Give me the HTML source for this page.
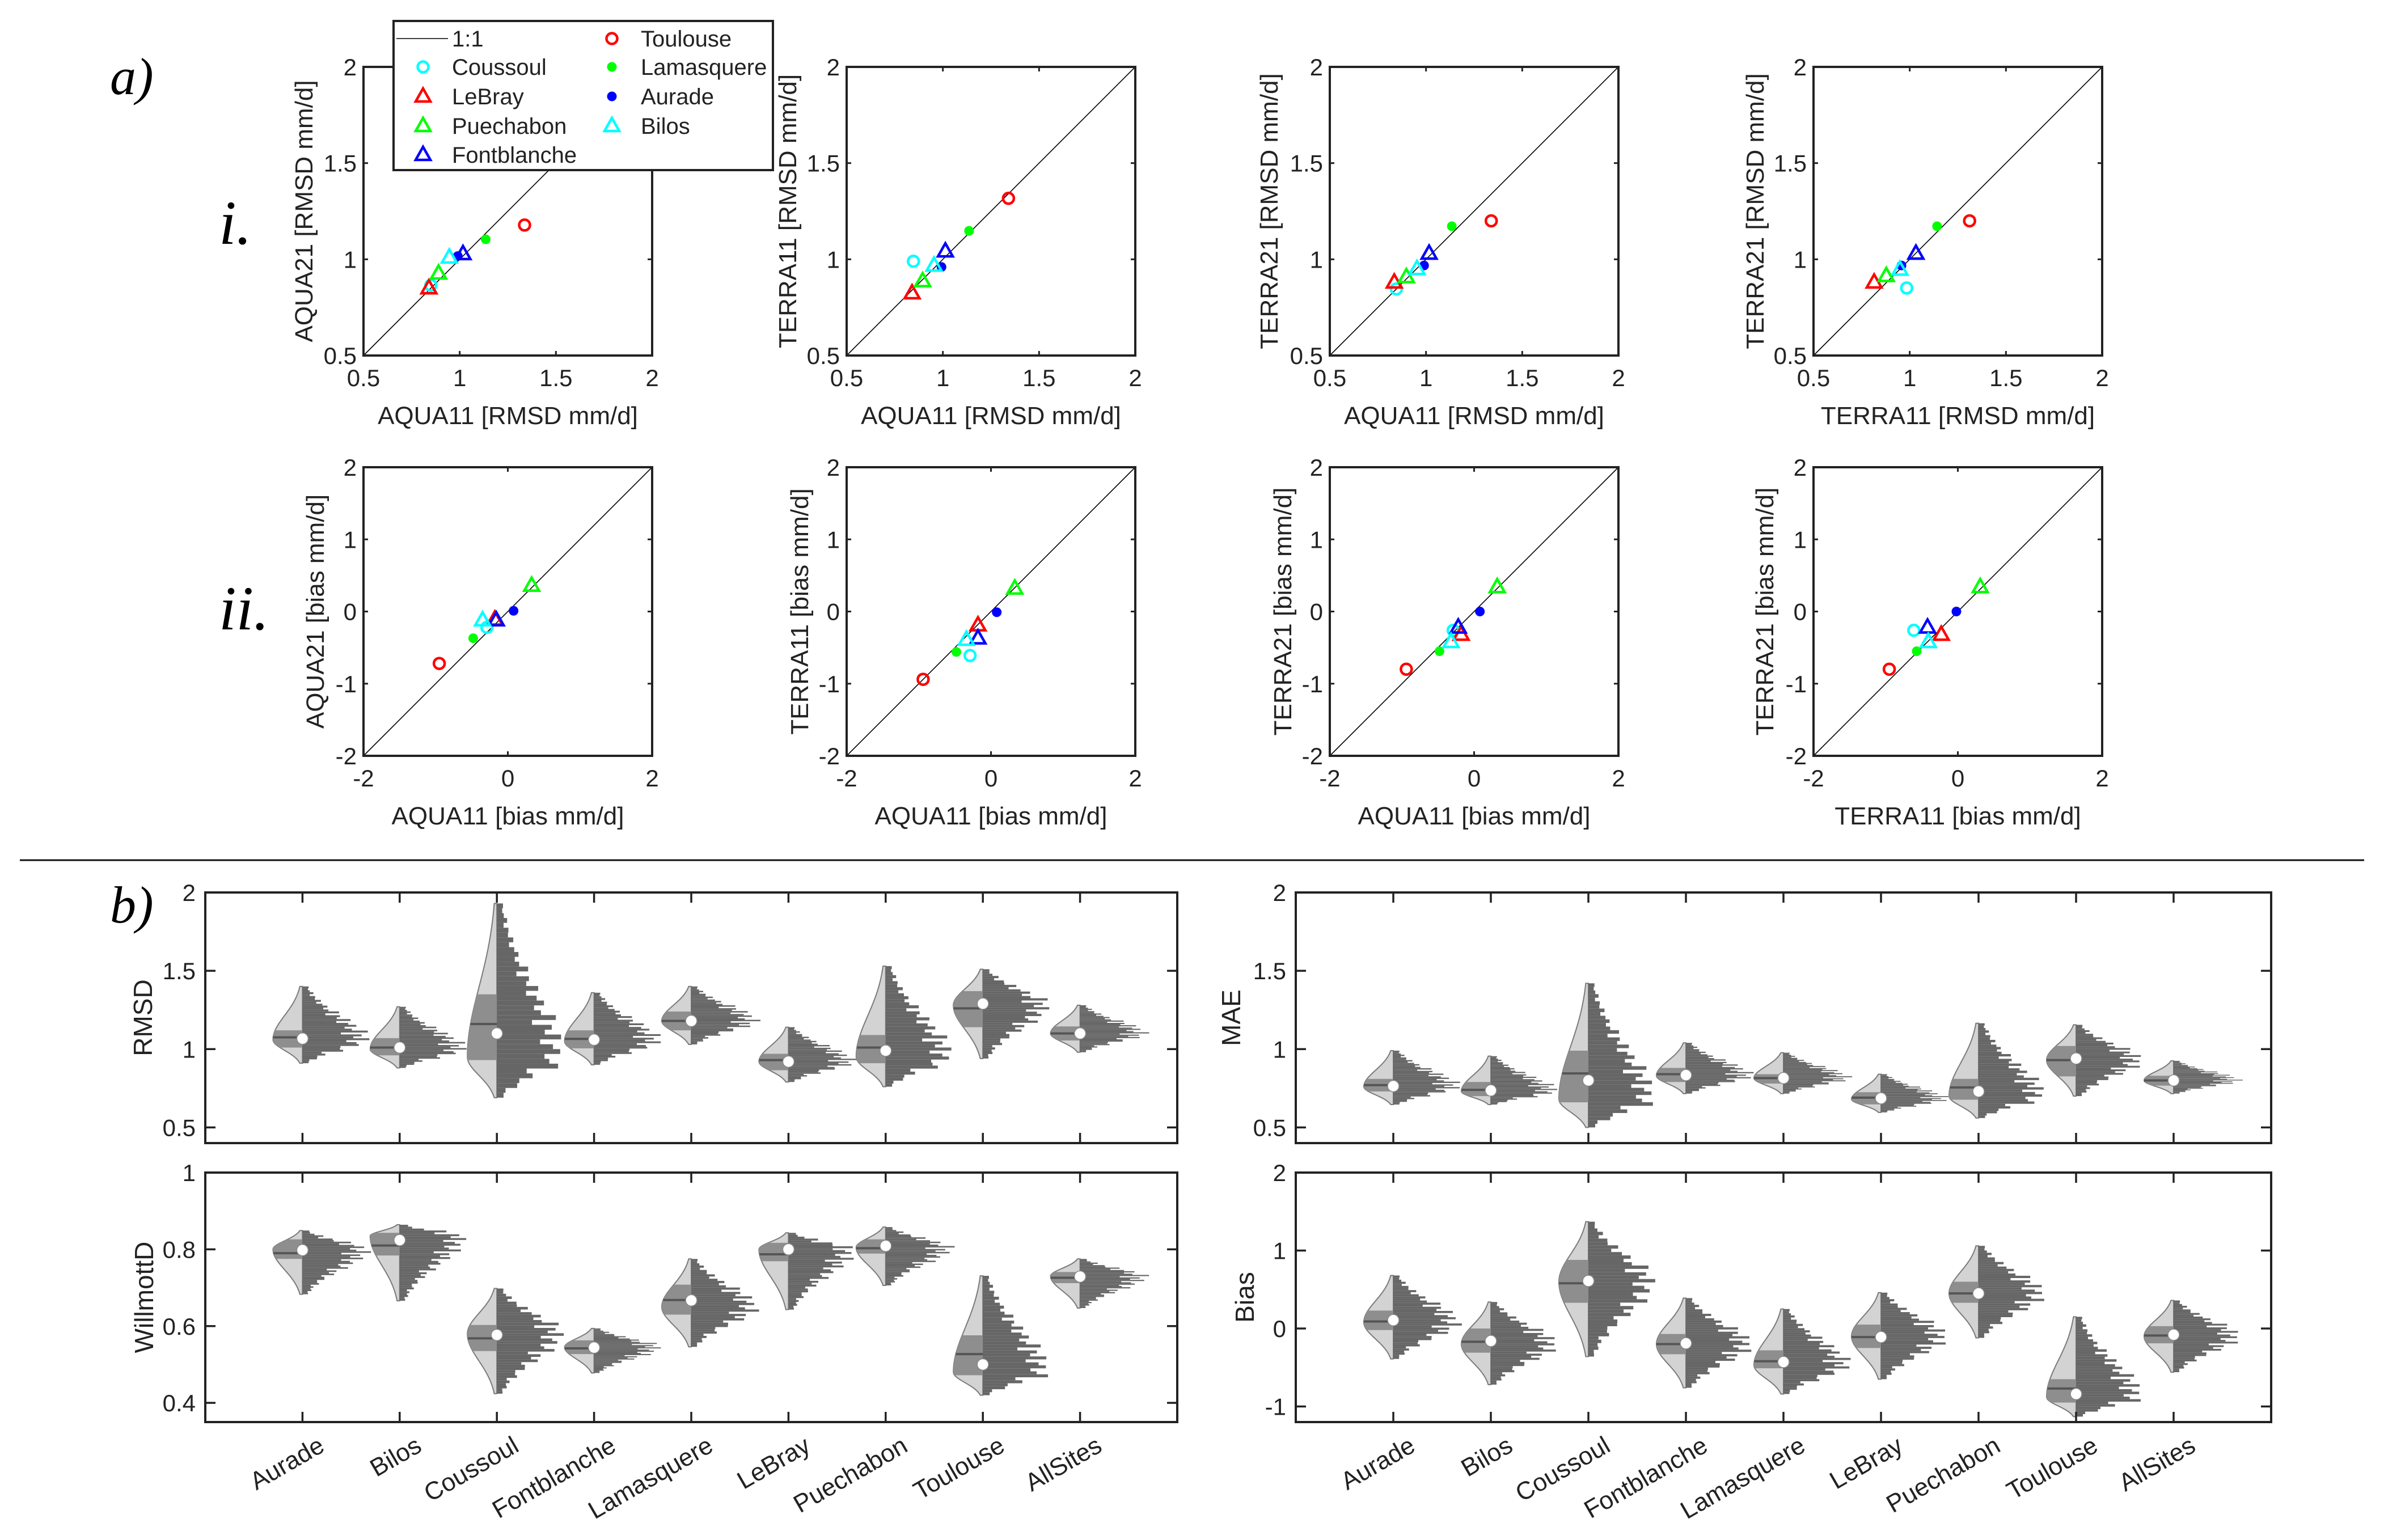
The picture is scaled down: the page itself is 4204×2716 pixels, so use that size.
<!DOCTYPE html>
<html><head><meta charset="utf-8"><style>
html,body{margin:0;padding:0;background:#fff;}
svg{display:block;font-family:"Liberation Sans",Arial,sans-serif;}
</style></head><body>
<svg id="fig" xmlns="http://www.w3.org/2000/svg" width="4204" height="2716" viewBox="0 0 4204 2716">
<rect x="0" y="0" width="4204" height="2716" fill="#fff"/>
<text x="194" y="166" font-family="Liberation Serif,serif" font-style="italic" font-size="92">a)</text>
<text x="386" y="430" font-family="Liberation Serif,serif" font-style="italic" font-size="110">i.</text>
<text x="386" y="1110" font-family="Liberation Serif,serif" font-style="italic" font-size="110">ii.</text>
<line x1="35" y1="1517" x2="4169" y2="1517" stroke="#111" stroke-width="3"/>
<text x="194" y="1627" font-family="Liberation Serif,serif" font-style="italic" font-size="92">b)</text>
<g id="g"></g>
</svg>
<script>
// ---------- scatter data ----------
const sites = ['Coussoul','LeBray','Puechabon','Fontblanche','Toulouse','Lamasquere','Aurade','Bilos'];
const siteColors = ['#00ffff','#ff0000','#00ff00','#0000ff','#ff0000','#00ff00','#0000ff','#00ffff'];
const siteMarkers = ['o','^','^','^','o','.','.','^'];
const p1x = [0.85,0.84,0.89,1.017,1.337,1.135,0.99,0.946];
const p1y = [0.865,0.85,0.927,1.028,1.178,1.104,1.017,1.01];
const p2x = [0.847,0.84,0.895,1.013,1.341,1.136,0.993,0.954];
const p2y = [0.99,0.824,0.887,1.042,1.317,1.148,0.96,0.968];
const p3x = [0.846,0.835,0.898,1.016,1.339,1.134,0.99,0.953];
const p3y = [0.846,0.88,0.908,1.03,1.2,1.172,0.968,0.95];
const p4x = [0.984,0.815,0.878,1.032,1.311,1.142,0.957,0.949];
const p4y = [0.851,0.88,0.914,1.03,1.2,1.172,0.968,0.947];
const p5x = [-0.29,-0.18,0.33,-0.16,-0.95,-0.48,0.08,-0.35];
const p5y = [-0.22,-0.11,0.36,-0.12,-0.72,-0.37,0.01,-0.12];
const p6x = [-0.29,-0.18,0.33,-0.18,-0.94,-0.48,0.08,-0.34];
const p6y = [-0.61,-0.19,0.32,-0.37,-0.94,-0.56,-0.01,-0.39];
const p7x = [-0.29,-0.18,0.32,-0.22,-0.94,-0.48,0.08,-0.32];
const p7y = [-0.26,-0.32,0.34,-0.22,-0.8,-0.55,0.0,-0.42];
const p8x = [-0.61,-0.23,0.31,-0.42,-0.95,-0.57,-0.02,-0.41];
const p8y = [-0.26,-0.32,0.34,-0.22,-0.8,-0.55,0.0,-0.42];
const rmsdTicks = [0.5,1,1.5,2];
const rmsdTickLabels = ['0.5','1','1.5','2'];
const biasTicks = [-2,0,2];
const biasTickLabels = ['-2','0','2'];
const biasYTicks = [-2,-1,0,1,2];
const biasYTickLabels = ['-2','-1','0','1','2'];

// ---------- violin data ----------
const categories = ['Aurade','Bilos','Coussoul','Fontblanche','Lamasquere','LeBray','Puechabon','Toulouse','AllSites'];
const rmsdMin = [0.91,0.88,0.69,0.90,1.03,0.79,0.76,0.94,0.98];
const rmsdQ1 = [1.01,0.96,0.93,1.005,1.12,0.865,0.91,1.14,1.055];
const rmsdMed = [1.075,1.01,1.16,1.065,1.18,0.93,1.01,1.26,1.10];
const rmsdQ3 = [1.12,1.07,1.35,1.12,1.24,0.97,1.09,1.37,1.145];
const rmsdMax = [1.40,1.27,1.93,1.36,1.40,1.14,1.53,1.51,1.28];
const rmsdMean = [1.067,1.01,1.10,1.06,1.18,0.92,0.99,1.29,1.10];
const rmsdMode = [1.06,1.0,0.95,1.05,1.18,0.92,0.95,1.28,1.10];
const willMin = [0.683,0.666,0.424,0.478,0.546,0.643,0.706,0.42,0.647];
const willQ1 = [0.775,0.784,0.535,0.527,0.63,0.769,0.789,0.472,0.712];
const willMed = [0.79,0.81,0.568,0.542,0.668,0.787,0.803,0.527,0.726];
const willQ3 = [0.826,0.843,0.603,0.563,0.708,0.817,0.826,0.576,0.741];
const willMax = [0.849,0.864,0.698,0.594,0.775,0.843,0.858,0.731,0.775];
const willMean = [0.798,0.824,0.577,0.544,0.667,0.80,0.809,0.50,0.729];
const willMode = [0.80,0.835,0.58,0.545,0.65,0.80,0.805,0.48,0.73];
const maeMin = [0.646,0.646,0.50,0.716,0.716,0.596,0.56,0.70,0.716];
const maeQ1 = [0.73,0.70,0.66,0.79,0.78,0.647,0.677,0.826,0.767];
const maeMed = [0.77,0.74,0.845,0.84,0.815,0.69,0.755,0.93,0.80];
const maeQ3 = [0.81,0.79,0.99,0.88,0.84,0.725,0.81,1.02,0.83];
const maeMax = [0.99,0.955,1.42,1.04,0.977,0.84,1.165,1.155,0.925];
const maeMean = [0.764,0.736,0.80,0.834,0.815,0.686,0.73,0.94,0.80];
const maeMode = [0.76,0.73,0.68,0.83,0.815,0.68,0.70,0.93,0.80];
const biasMin = [-0.39,-0.72,-0.36,-0.76,-0.84,-0.65,-0.12,-1.13,-0.56];
const biasQ1 = [-0.02,-0.31,0.33,-0.33,-0.51,-0.25,0.33,-0.95,-0.19];
const biasMed = [0.09,-0.17,0.58,-0.2,-0.42,-0.11,0.45,-0.77,-0.09];
const biasQ3 = [0.23,0.0,0.88,-0.07,-0.28,0.05,0.60,-0.65,0.03];
const biasMax = [0.68,0.34,1.37,0.39,0.25,0.46,1.06,0.15,0.36];
const biasMean = [0.107,-0.16,0.61,-0.19,-0.43,-0.11,0.45,-0.84,-0.08];
const biasMode = [0.08,-0.2,0.6,-0.2,-0.47,-0.1,0.45,-0.88,-0.1];

const NS = 'http://www.w3.org/2000/svg';
const root = document.getElementById('g');
function mk(tag, attrs, parent, name, inter) {
  const el = document.createElementNS(NS, tag);
  for (const k in attrs) el.setAttribute(k, attrs[k]);
  
  
  (parent || root).appendChild(el);
  return el;
}
function txt(s, attrs, parent, name) {
  const el = mk('text', attrs, parent, name, false);
  el.textContent = s;
  return el;
}

// ---------- scatter plots ----------
function marker(g, kind, color, px, py, name) {
  if (kind === 'o') {
    mk('circle', {cx:px, cy:py, r:9.5, fill:'none', stroke:color, 'stroke-width':4.5}, g, name, false);
  } else if (kind === '^') {
    mk('path', {d:`M${px},${py-14} L${px+13},${py+9} L${px-13},${py+9} Z`, fill:'none', stroke:color, 'stroke-width':4.5, 'stroke-linejoin':'miter'}, g, name, false);
  } else {
    mk('circle', {cx:px, cy:py, r:8.5, fill:color}, g, name, false);
  }
}
function scatter(id, x0, y0, size, lo, hi, xt, xtl, yt, ytl, xs, ys, xlab, ylab, ylabOff) {
  const g = mk('g', {}, root, 'scatter-' + id, false);
  const sx = v => x0 + (v - lo) / (hi - lo) * size;
  const sy = v => y0 + size - (v - lo) / (hi - lo) * size;
  mk('line', {x1:sx(lo), y1:sy(lo), x2:sx(hi), y2:sy(hi), stroke:'#000', 'stroke-width':1.6}, g, 'one-to-one-line', false);
  xt.forEach((v, i) => {
    mk('line', {x1:sx(v), y1:y0+size, x2:sx(v), y2:y0+size-8, stroke:'#222', 'stroke-width':3}, g, 'x-tick', false);
    mk('line', {x1:sx(v), y1:y0, x2:sx(v), y2:y0+8, stroke:'#222', 'stroke-width':3}, g, 'x-tick-top', false);
    txt(xtl[i], {x:sx(v), y:y0+size+54, 'font-size':42, 'text-anchor':'middle', fill:'#222'}, g, 'x-tick-label');
  });
  yt.forEach((v, i) => {
    mk('line', {x1:x0, y1:sy(v), x2:x0+8, y2:sy(v), stroke:'#222', 'stroke-width':3}, g, 'y-tick', false);
    mk('line', {x1:x0+size, y1:sy(v), x2:x0+size-8, y2:sy(v), stroke:'#222', 'stroke-width':3}, g, 'y-tick-right', false);
    txt(ytl[i], {x:x0-12, y:sy(v)+15, 'font-size':42, 'text-anchor':'end', fill:'#222'}, g, 'y-tick-label');
  });
  xs.forEach((v, i) => {
    marker(g, siteMarkers[i], siteColors[i], sx(v), sy(ys[i]), 'point-' + sites[i].toLowerCase());
  });
  mk('rect', {x:x0, y:y0, width:size, height:size, fill:'none', stroke:'#222', 'stroke-width':4}, g, 'plot-frame', false);
  txt(xlab, {x:x0+size/2, y:y0+size+121, 'font-size':44, 'text-anchor':'middle', fill:'#222'}, g, 'x-axis-title');
  const lx = x0 - ylabOff + 15, ly = y0 + size/2;
  txt(ylab, {x:lx, y:ly, 'font-size':44, 'text-anchor':'middle', fill:'#222', transform:`rotate(-90 ${lx} ${ly})`}, g, 'y-axis-title');
}
const SZ = 509;
scatter('aqua11-aqua21-rmsd', 641, 118, SZ, 0.5, 2, rmsdTicks, rmsdTickLabels, rmsdTicks, rmsdTickLabels, p1x, p1y, 'AQUA11 [RMSD mm/d]', 'AQUA21 [RMSD mm/d]', 105);
scatter('aqua11-terra11-rmsd', 1493, 118, SZ, 0.5, 2, rmsdTicks, rmsdTickLabels, rmsdTicks, rmsdTickLabels, p2x, p2y, 'AQUA11 [RMSD mm/d]', 'TERRA11 [RMSD mm/d]', 104);
scatter('aqua11-terra21-rmsd', 2345, 118, SZ, 0.5, 2, rmsdTicks, rmsdTickLabels, rmsdTicks, rmsdTickLabels, p3x, p3y, 'AQUA11 [RMSD mm/d]', 'TERRA21 [RMSD mm/d]', 107);
scatter('terra11-terra21-rmsd', 3198, 118, SZ, 0.5, 2, rmsdTicks, rmsdTickLabels, rmsdTicks, rmsdTickLabels, p4x, p4y, 'TERRA11 [RMSD mm/d]', 'TERRA21 [RMSD mm/d]', 103);
scatter('aqua11-aqua21-bias', 641, 824, SZ, -2, 2, biasTicks, biasTickLabels, biasYTicks, biasYTickLabels, p5x, p5y, 'AQUA11 [bias mm/d]', 'AQUA21 [bias mm/d]', 85);
scatter('aqua11-terra11-bias', 1493, 824, SZ, -2, 2, biasTicks, biasTickLabels, biasYTicks, biasYTickLabels, p6x, p6y, 'AQUA11 [bias mm/d]', 'TERRA11 [bias mm/d]', 83);
scatter('aqua11-terra21-bias', 2345, 824, SZ, -2, 2, biasTicks, biasTickLabels, biasYTicks, biasYTickLabels, p7x, p7y, 'AQUA11 [bias mm/d]', 'TERRA21 [bias mm/d]', 83);
scatter('terra11-terra21-bias', 3198, 824, SZ, -2, 2, biasTicks, biasTickLabels, biasYTicks, biasYTickLabels, p8x, p8y, 'TERRA11 [bias mm/d]', 'TERRA21 [bias mm/d]', 86);

// ---------- legend ----------
(function(){
  const g = mk('g', {}, root, 'legend', false);
  mk('rect', {x:694, y:37, width:669, height:263, fill:'#fff', stroke:'#222', 'stroke-width':4}, g, 'legend-box', false);
  const rows = [68,118,170,222,273];
  mk('line', {x1:699, y1:rows[0], x2:790, y2:rows[0], stroke:'#000', 'stroke-width':1.6}, g, 'legend-line-1to1', false);
  txt('1:1', {x:797, y:rows[0]+14, 'font-size':40, fill:'#222'}, g, 'legend-label');
  const col1 = [0,1,2,3], col2 = [4,5,6,7];
  col1.forEach((si, r) => {
    marker(g, siteMarkers[si], siteColors[si], 746, rows[r+1], 'legend-marker');
    txt(sites[si], {x:797, y:rows[r+1]+14, 'font-size':40, fill:'#222'}, g, 'legend-label');
  });
  col2.forEach((si, r) => {
    marker(g, siteMarkers[si], siteColors[si], 1079, rows[r], 'legend-marker');
    txt(sites[si], {x:1130, y:rows[r]+14, 'font-size':40, fill:'#222'}, g, 'legend-label');
  });
})();

// ---------- violin plots ----------
const jag = [1.0,0.78,1.18,0.9,1.06,0.7,1.22,0.95,0.84,1.12];
function violinPanel(id, x0, x1, y0, y1, lo, hi, ticks, tickLabels, ylab, ylabX, mins, q1s, meds, q3s, maxs, means, modes, showCats) {
  const g = mk('g', {}, root, 'violin-panel-' + id, false);
  const sx = c => x0 + c / 10 * (x1 - x0);
  const sy = v => y1 - (v - lo) / (hi - lo) * (y1 - y0);
  categories.forEach((cat, i) => {
    const cx = sx(i + 1);
    const mn = mins[i], mx = maxs[i], md = meds[i], mo = modes[i];
    const sl = Math.max((mo - mn) / 2.2, 0.005), sh = Math.max((mx - mo) / 2.2, 0.005);
    const dens = v => v < mo ? Math.exp(-0.5 * Math.pow((v - mo) / sl, 2)) : Math.exp(-0.5 * Math.pow((v - mo) / sh, 2));
    const vg = mk('g', {}, g, 'violin-' + cat.toLowerCase(), false);
    const N = 70;
    const half = (a, b) => {
      let d = `M${cx},${sy(a)}`;
      for (let k = 0; k <= N; k++) {
        const v = a + (b - a) * k / N;
        d += ` L${cx - 52 * dens(v)},${sy(v)}`;
      }
      return d + ` L${cx},${sy(b)} Z`;
    };
    mk('path', {d:half(mn, mx), fill:'#d3d3d3', stroke:'#7a7a7a', 'stroke-width':2}, vg, 'violin-density', false);
    mk('path', {d:half(q1s[i], q3s[i]), fill:'#8e8e8e', stroke:'none'}, vg, 'violin-iqr', false);
    mk('line', {x1:cx - 52 * dens(md), y1:sy(md), x2:cx, y2:sy(md), stroke:'#555', 'stroke-width':4}, vg, 'violin-median', false);
    const NB = 40, bh = (mx - mn) / NB;
    for (let b = 0; b < NB; b++) {
      const v = mn + (b + 0.5) * bh;
      const len = Math.max(6, 100 * dens(v) * jag[b % jag.length]);
      mk('rect', {x:cx, y:sy(v + bh / 2), width:len, height:Math.max(1, sy(v - bh / 2) - sy(v + bh / 2)), fill:'#666'}, vg, 'histogram-bar', false);
    }
    mk('circle', {cx:cx, cy:sy(means[i]), r:10, fill:'#fff', stroke:'#888', 'stroke-width':1.5}, vg, 'violin-mean', false);
    mk('line', {x1:cx, y1:y1, x2:cx, y2:y1 - 18, stroke:'#222', 'stroke-width':3.5}, g, 'x-tick', false);
    mk('line', {x1:cx, y1:y0, x2:cx, y2:y0 + 18, stroke:'#222', 'stroke-width':3.5}, g, 'x-tick-top', false);
    if (showCats) {
      const tx = cx + 26, ty = y1 + 23;
      txt(cat, {x:tx, y:ty + 31, 'font-size':44, 'text-anchor':'end', fill:'#222', transform:`rotate(-30 ${tx} ${ty})`}, g, 'category-label');
    }
  });
  ticks.forEach((v, i) => {
    mk('line', {x1:x0, y1:sy(v), x2:x0 + 18, y2:sy(v), stroke:'#222', 'stroke-width':3.5}, g, 'y-tick', false);
    mk('line', {x1:x1, y1:sy(v), x2:x1 - 18, y2:sy(v), stroke:'#222', 'stroke-width':3.5}, g, 'y-tick-right', false);
    txt(tickLabels[i], {x:x0 - 17, y:sy(v) + 15, 'font-size':42, 'text-anchor':'end', fill:'#222'}, g, 'y-tick-label');
  });
  mk('rect', {x:x0, y:y0, width:x1 - x0, height:y1 - y0, fill:'none', stroke:'#222', 'stroke-width':4}, g, 'plot-frame', false);
  const ly = (y0 + y1) / 2, lx = ylabX + 16;
  txt(ylab, {x:lx, y:ly, 'font-size':46, 'text-anchor':'middle', fill:'#222', transform:`rotate(-90 ${lx} ${ly})`}, g, 'y-axis-title');
}
violinPanel('rmsd', 362, 2076, 1574, 2016, 0.4, 2, [0.5,1,1.5,2], ['0.5','1','1.5','2'], 'RMSD', 252, rmsdMin, rmsdQ1, rmsdMed, rmsdQ3, rmsdMax, rmsdMean, rmsdMode, false);
violinPanel('willmottd', 362, 2076, 2068, 2508, 0.35, 1, [0.4,0.6,0.8,1], ['0.4','0.6','0.8','1'], 'WillmottD', 254, willMin, willQ1, willMed, willQ3, willMax, willMean, willMode, true);
violinPanel('mae', 2285, 4005, 1574, 2016, 0.4, 2, [0.5,1,1.5,2], ['0.5','1','1.5','2'], 'MAE', 2171, maeMin, maeQ1, maeMed, maeQ3, maeMax, maeMean, maeMode, false);
violinPanel('bias', 2285, 4005, 2068, 2508, -1.2, 2, [-1,0,1,2], ['-1','0','1','2'], 'Bias', 2195, biasMin, biasQ1, biasMed, biasQ3, biasMax, biasMean, biasMode, true);
</script>
</body></html>
